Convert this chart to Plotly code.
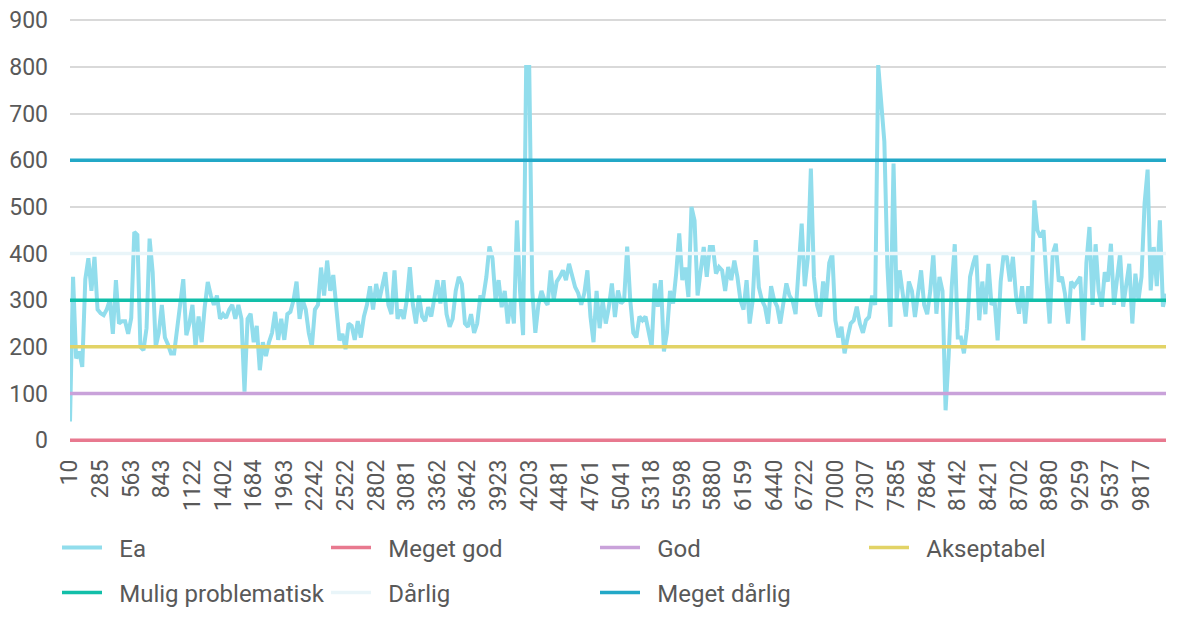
import plotly.graph_objects as go

tick_labels = ["10", "285", "563", "843", "1122", "1402", "1684", "1963", "2242", "2522",
               "2802", "3081", "3362", "3642", "3923", "4203", "4481", "4761", "5041", "5318",
               "5598", "5880", "6159", "6440", "6722", "7000", "7307", "7585", "7864", "8142",
               "8421", "8702", "8980", "9259", "9537", "9817"]

ea_values = [
    40, 350, 175, 190, 157, 345, 390, 320, 393, 280,
    272, 268, 280, 300, 228, 343, 250, 255, 255, 228,
    262, 446, 440, 200, 193, 240, 432, 360, 200, 230,
    290, 220, 205, 186, 186, 240, 300, 345, 225, 250,
    290, 200, 265, 210, 285, 339, 310, 290, 310, 260,
    270, 262, 280, 290, 260, 290, 260, 104, 260, 271,
    210, 245, 150, 210, 180, 210, 230, 275, 215, 260,
    215, 270, 275, 300, 340, 260, 300, 280, 230, 200,
    280, 290, 370, 310, 385, 320, 354, 290, 214, 228,
    195, 250, 245, 215, 255, 220, 265, 290, 330, 280,
    335, 300, 335, 360, 290, 270, 364, 260, 280, 260,
    300, 371, 290, 250, 310, 265, 255, 285, 265, 300,
    343, 293, 343, 270, 243, 260, 320, 350, 335, 250,
    243, 270, 230, 250, 307, 307, 350, 415, 390, 300,
    343, 285, 320, 250, 300, 250, 471, 320, 225, 800,
    800, 320, 230, 290, 320, 300, 290, 364, 300, 340,
    350, 364, 343, 378, 350, 328, 315, 290, 315, 364,
    265, 210, 320, 240, 300, 250, 285, 336, 264, 321,
    293, 300, 415, 300, 230, 220, 265, 257, 265, 228,
    200, 336, 286, 343, 190, 230, 320, 293, 357, 443,
    343, 370, 307, 500, 471, 310, 370, 414, 350, 414,
    414, 357, 371, 364, 320, 371, 343, 385, 350, 300,
    280, 343, 250, 300, 429, 328, 300, 286, 250, 330,
    300, 286, 250, 300, 336, 310, 300, 270, 357, 464,
    330, 390, 582, 350, 290, 265, 340, 300, 380, 400,
    257, 220, 243, 186, 220, 250, 257, 286, 250, 230,
    257, 264, 310, 290, 804, 707, 640, 372, 243, 593,
    300, 364, 310, 265, 340, 320, 264, 310, 364, 290,
    270, 320, 400, 271, 350, 320, 64, 180, 328, 420,
    220, 220, 186, 240, 350, 378, 400, 257, 340, 270,
    378, 290, 300, 214, 340, 400, 393, 340, 393, 310,
    271, 330, 250, 330, 300, 514, 450, 435, 450, 340,
    250, 400, 421, 340, 350, 314, 250, 340, 330, 340,
    350, 214, 380, 457, 290, 420, 320, 286, 360, 340,
    421, 290, 340, 400, 286, 340, 378, 250, 357, 300,
    350, 507, 580, 321, 414, 330, 471, 286, 314,
]

threshold_names = ["Meget god", "God", "Akseptabel", "Mulig problematisk", "Dårlig", "Meget dårlig"]
threshold_values = [0, 100, 200, 300, 400, 600]
threshold_colors = ["#E8798F", "#C9A2DA", "#E2D366", "#12BFA9", "#E9F5F9", "#23A8C7"]
ea_color = "#91DDEC"

points_per_tick = 10
n = len(ea_values)
xs = list(range(n))
tickvals = [i * points_per_tick for i in range(len(tick_labels))]

pad = "\u2002"  # small gap between legend line and text
fig = go.Figure()
fig.add_trace(go.Scatter(x=xs, y=ea_values, mode="lines", name=pad + "Ea",
                         line=dict(color=ea_color, width=4), legend="legend"))
for k, (nm, v, c) in enumerate(zip(threshold_names, threshold_values, threshold_colors)):
    fig.add_trace(go.Scatter(x=[xs[0], xs[-1]], y=[v, v], mode="lines", name=pad + nm,
                             line=dict(color=c, width=3.5),
                             legend="legend" if k < 3 else "legend2"))

W, H = 1184, 618
off = 8  # page body margin offset
y_top = 905
y_bot = -4
px_per_unit = 420 / 900
font_family = "Roboto, 'Open Sans', sans-serif"
legend_common = dict(orientation="h", xref="container", yref="container",
                     xanchor="left", yanchor="middle",
                     entrywidth=214, entrywidthmode="pixels", itemwidth=40,
                     font=dict(size=24, color="#595959"), bgcolor="rgba(0,0,0,0)",
                     borderwidth=0)
fig.update_layout(
    width=W, height=H,
    margin=dict(l=70 - off, r=18 + off, t=20 - off - (y_top - 900) * px_per_unit,
                b=178 + off + y_bot * px_per_unit, autoexpand=False),
    paper_bgcolor="white", plot_bgcolor="white",
    font=dict(family=font_family, color="#595959", size=23),
    xaxis=dict(range=[0, n - 1], tickmode="array", tickvals=tickvals, ticktext=tick_labels,
               tickangle=-90, showgrid=False, zeroline=False, showline=False, automargin=False,
               tickfont=dict(size=23, color="#595959"), ticks="", ticklabelstandoff=12,
               ticklabeloverflow="allow"),
    yaxis=dict(range=[y_bot, y_top], tickmode="array", tickvals=list(range(0, 1000, 100)),
               showgrid=True, gridcolor="#D9D9D9", gridwidth=1.5,
               zeroline=False, showline=False, automargin=False,
               tickfont=dict(size=23, color="#595959"), ticks="", ticklabelstandoff=21,
               ticklabeloverflow="allow"),
    legend=dict(x=49 / W, y=1 - (548 - off) / H, **legend_common),
    legend2=dict(x=49 / W, y=1 - (593 - off) / H, **legend_common),
    showlegend=True,
)

fig.write_html("out.html")
